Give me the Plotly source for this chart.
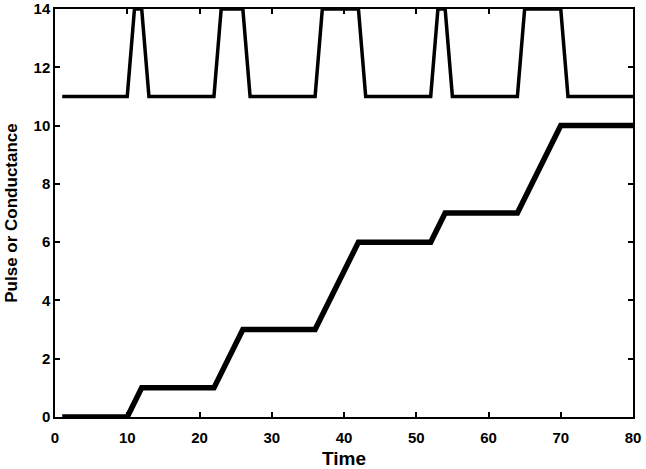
import plotly.graph_objects as go

# Pulse train (breakpoints)
pulse_t = [1, 10, 11, 12, 13, 22, 23, 26, 27, 36, 37, 42, 43, 52, 53, 54, 55, 64, 65, 70, 71, 80]
pulse_v = [11, 11, 14, 14, 11, 11, 14, 14, 11, 11, 14, 14, 11, 11, 14, 14, 11, 11, 14, 14, 11, 11]

# Conductance staircase
cond_t = [1, 10, 12, 22, 26, 36, 42, 52, 54, 64, 70, 80]
cond_v = [0, 0, 1, 1, 3, 3, 6, 6, 7, 7, 10, 10]

x_ticks = [0, 10, 20, 30, 40, 50, 60, 70, 80]
y_ticks = [0, 2, 4, 6, 8, 10, 12, 14]

FAM = "Liberation Sans, Arial, sans-serif"

fig = go.Figure()
fig.add_trace(go.Scatter(x=pulse_t, y=pulse_v, mode="lines",
                         line=dict(color="black", width=3.5), showlegend=False,
                         cliponaxis=False))
fig.add_trace(go.Scatter(x=cond_t, y=cond_v, mode="lines",
                         line=dict(color="black", width=5.5), showlegend=False))

axis_common = dict(showgrid=False, zeroline=False, showline=True, linecolor="black",
                   linewidth=1.5, mirror="ticks", ticks="inside", ticklen=5,
                   tickcolor="black", tickwidth=1.5, automargin=False,
                   ticklabeloverflow="allow",
                   tickfont=dict(size=15, family=FAM, color="black", weight="bold"))

fig.update_layout(
    width=646, height=469,
    margin=dict(l=55, r=13, t=9, b=52),
    paper_bgcolor="white", plot_bgcolor="white",
    xaxis=dict(range=[0, 80], tickvals=x_ticks, ticktext=[str(v) for v in x_ticks],
               ticklabelstandoff=6,
               title=dict(text="Time", font=dict(size=19, family=FAM, color="black", weight="bold"),
                          standoff=8),
               **axis_common),
    yaxis=dict(range=[0, 14], tickvals=y_ticks, ticktext=[str(v) for v in y_ticks],
               title=dict(text="Pulse or Conductance",
                          font=dict(size=17, family=FAM, color="black", weight="bold"),
                          standoff=12),
               **axis_common),
)

fig.write_html("out.html", config={"displayModeBar": False},
               post_script="document.body.style.margin='0';document.body.style.overflow='hidden';")
